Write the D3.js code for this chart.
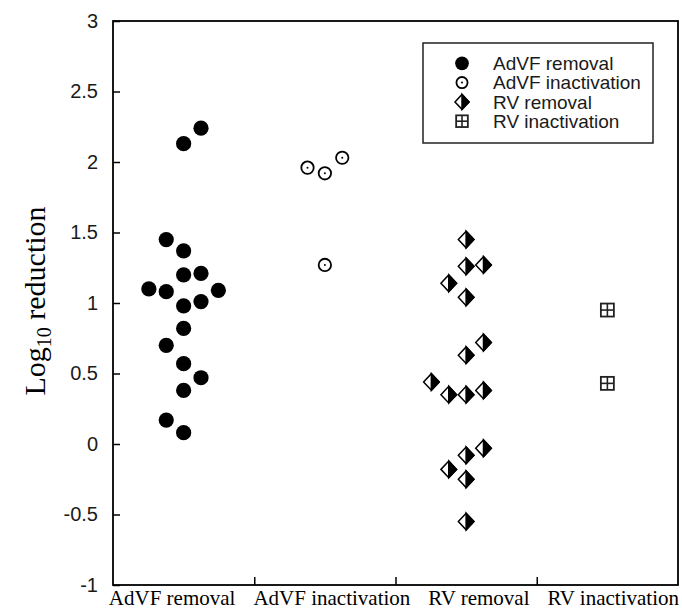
<!DOCTYPE html>
<html>
<head>
<meta charset="utf-8">
<script src="https://cdn.jsdelivr.net/npm/d3@7"></script>
<style>
  html, body { margin: 0; padding: 0; background: #fff; }
  svg { display: block; }
</style>
</head>
<body>
<script>
// ---------------- data ----------------
const categories = ["AdVF removal", "AdVF inactivation", "RV removal", "RV inactivation"];
const yTicks = [-1, -0.5, 0, 0.5, 1, 1.5, 2, 2.5, 3];
const yTickLabels = ["-1", "-0.5", "0", "0.5", "1", "1.5", "2", "2.5", "3"];

// dot-plot values, with their stacking slot (side-by-side column index) within the category
const advfRemovalValues = [2.24, 2.13, 1.45, 1.37, 1.20, 1.21, 1.10, 1.08, 1.09, 0.98, 1.01, 0.82, 0.70, 0.57, 0.47, 0.38, 0.17, 0.08];
const advfRemovalSlots  = [1, 0, -1, 0, 0, 1, -2, -1, 2, 0, 1, 0, -1, 0, 1, 0, -1, 0];

const advfInactValues = [1.96, 1.92, 2.03, 1.27];
const advfInactSlots  = [-1, 0, 1, 0];

const rvRemovalValues = [1.45, 1.26, 1.27, 1.14, 1.04, 0.72, 0.63, 0.44, 0.35, 0.35, 0.38, -0.03, -0.08, -0.18, -0.25, -0.55];
const rvRemovalSlots  = [0, 0, 1, -1, 0, 1, 0, -2, -1, 0, 1, 1, 0, -1, 0, 0];

const rvInactValues = [0.95, 0.43];
const rvInactSlots  = [0, 0];

const legendLabels = ["AdVF removal", "AdVF inactivation", "RV removal", "RV inactivation"];

// ---------------- layout ----------------
const W = 682, H = 611;
const svg = d3.select("body").append("svg").attr("width", W).attr("height", H);

const x = d3.scaleLinear().domain([0, 4]).range([113, 678]);
const y = d3.scaleLinear().domain([-1, 3]).range([585, 21]);
const slotStep = 0.123; // in category units

const series = [
  { cat: 0, values: advfRemovalValues, slots: advfRemovalSlots, shape: "filled" },
  { cat: 1, values: advfInactValues, slots: advfInactSlots, shape: "open" },
  { cat: 2, values: rvRemovalValues, slots: rvRemovalSlots, shape: "diamond" },
  { cat: 3, values: rvInactValues, slots: rvInactSlots, shape: "square" }
];

// ---------------- axes ----------------
const yAxis = d3.axisLeft(y)
  .tickValues(yTicks)
  .tickFormat((d, i) => yTickLabels[i])
  .tickSizeInner(-7).tickSizeOuter(0).tickPadding(15);
const gy = svg.append("g").attr("transform", `translate(${x(0)},0)`).call(yAxis);
gy.select(".domain").remove();
gy.selectAll(".tick line").attr("stroke", "#000").attr("stroke-width", 1.5);
gy.selectAll(".tick text")
  .attr("font-family", "Liberation Sans, Arial, sans-serif")
  .attr("font-size", 20).attr("fill", "#1a1a1a");

const xAxis = d3.axisBottom(x).tickValues([1, 2, 3]).tickFormat("").tickSizeInner(-8).tickSizeOuter(0);
const gx = svg.append("g").attr("transform", `translate(0,${y(-1)})`).call(xAxis);
gx.select(".domain").remove();
gx.selectAll(".tick line").attr("stroke", "#000").attr("stroke-width", 1.5);

// frame
svg.append("rect")
  .attr("x", x(0)).attr("y", y(3))
  .attr("width", x(4) - x(0)).attr("height", y(-1) - y(3))
  .attr("fill", "none").attr("stroke", "#000").attr("stroke-width", 1.8);

// category labels laid out as a row ending at the right edge of the frame
const labelG = svg.append("g");
const labels = labelG.selectAll("text").data(categories).join("text")
  .attr("font-family", "Liberation Serif, Times New Roman, serif")
  .attr("font-size", 21).attr("fill", "#000")
  .attr("y", y(-1) + 20)
  .text(d => d);
const gap = 18;
const widths = labels.nodes().map(n => n.getComputedTextLength());
let cursor = x(4) + 1;
for (let i = categories.length - 1; i >= 0; i--) {
  cursor -= widths[i];
  d3.select(labels.nodes()[i]).attr("x", cursor);
  cursor -= gap;
}

// y title
const yt = svg.append("text")
  .attr("transform", `translate(45,${(y(-1) + y(3)) / 2 - 2}) rotate(-90)`)
  .attr("text-anchor", "middle")
  .attr("font-family", "Liberation Serif, Times New Roman, serif")
  .attr("font-size", 30).attr("fill", "#000");
yt.append("tspan").text("Log");
yt.append("tspan").attr("font-size", 20).attr("dy", 6).text("10");
yt.append("tspan").attr("dy", -6).text(" reduction");

// ---------------- markers ----------------
function drawMarker(g, shape, cx, cy, s) {
  if (shape === "filled") {
    g.append("circle").attr("cx", cx).attr("cy", cy).attr("r", 7.6 * s).attr("fill", "#000");
  } else if (shape === "open") {
    g.append("circle").attr("cx", cx).attr("cy", cy).attr("r", 6.2 * s)
      .attr("fill", "#fff").attr("stroke", "#000").attr("stroke-width", 1.8);
    g.append("circle").attr("cx", cx).attr("cy", cy).attr("r", 1).attr("fill", "#000");
  } else if (shape === "diamond") {
    const hw = 7.8 * s, hh = 8.3 * s;
    g.append("path")
      .attr("d", `M${cx - hw},${cy} L${cx},${cy - hh} L${cx + hw},${cy} L${cx},${cy + hh} Z`)
      .attr("fill", "#fff").attr("stroke", "#000").attr("stroke-width", 1.5).attr("stroke-linejoin", "miter");
    g.append("path")
      .attr("d", `M${cx},${cy - hh} L${cx + hw},${cy} L${cx},${cy + hh} Z`)
      .attr("fill", "#000").attr("stroke", "#000").attr("stroke-width", 1.5);
  } else if (shape === "square") {
    const h = 6.5 * s;
    g.append("rect").attr("x", cx - h).attr("y", cy - h).attr("width", 2 * h).attr("height", 2 * h)
      .attr("fill", "#fff").attr("stroke", "#222").attr("stroke-width", 1.8);
    g.append("line").attr("x1", cx).attr("x2", cx).attr("y1", cy - h).attr("y2", cy + h)
      .attr("stroke", "#222").attr("stroke-width", 1.6);
    g.append("line").attr("x1", cx - h).attr("x2", cx + h).attr("y1", cy).attr("y2", cy)
      .attr("stroke", "#222").attr("stroke-width", 1.6);
  }
}

const pts = svg.append("g");
series.forEach(sr => {
  sr.values.forEach((v, i) => {
    const cx = x(sr.cat + 0.5 + sr.slots[i] * slotStep);
    drawMarker(pts, sr.shape, cx, y(v), 1);
  });
});

// ---------------- legend ----------------
const lg = svg.append("g");
lg.append("rect").attr("x", 423).attr("y", 43).attr("width", 230).attr("height", 100)
  .attr("fill", "#fff").attr("stroke", "#222").attr("stroke-width", 1.5);
const legRowY = d => 63.3 + d * 19.3;
series.forEach((sr, i) => {
  drawMarker(lg, sr.shape, 462, legRowY(i), 0.9);
  lg.append("text").attr("x", 493).attr("y", legRowY(i)).attr("dy", "0.36em")
    .attr("font-family", "Liberation Sans, Arial, sans-serif")
    .attr("font-size", 19).attr("fill", "#1a1a1a")
    .text(legendLabels[i]);
});
</script>
</body>
</html>
